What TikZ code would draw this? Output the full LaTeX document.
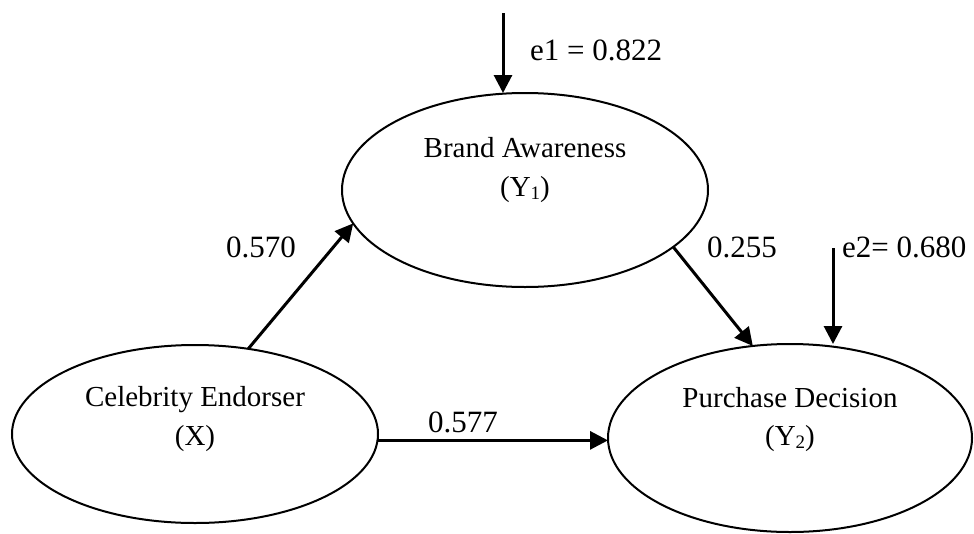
\documentclass[tikz,border=0pt]{standalone}
\usepackage{fontspec}
\setmainfont{Liberation Serif}
\usetikzlibrary{arrows.meta,shapes.geometric}

% lowered small index used in the construct names
\newcommand{\idx}[1]{\raisebox{-3pt}{\fontsize{19}{19}\selectfont #1}}

\begin{document}
\begin{tikzpicture}[x=1pt,y=-1pt,
  construct/.style={draw, ellipse, line width=2pt, inner sep=0pt, outer sep=0pt},
  nametext/.style={inner sep=0pt, anchor=base, font=\fontsize{29}{35}\selectfont},
  coef/.style={inner sep=0pt, anchor=base west, font=\fontsize{31}{37}\selectfont},
  path/.style={line width=3pt, -{Triangle[length=18pt,width=18pt]}}]

\useasboundingbox (0,0) rectangle (974,533);

% latent constructs
\node[construct, minimum width=366pt, minimum height=194pt] (brand) at (525,190) {};
\node[construct, minimum width=366pt, minimum height=178pt] (celeb) at (195,434) {};
\node[construct, minimum width=364pt, minimum height=188pt] (purch) at (790,438) {};

\node[nametext] (brandname) at (525,157) {Brand Awareness};
\node[nametext] (brandsym)  at (525,196) {(Y\idx{1})};
\node[nametext] (celebname) at (195,406) {Celebrity Endorser};
\node[nametext] (celebsym)  at (195,445) {(X)};
\node[nametext] (purchname) at (790,407) {Purchase Decision};
\node[nametext] (purchsym)  at (790,445) {(Y\idx{2})};

% error terms
\coordinate (e1top) at (503,13);
\coordinate (e2top) at (833,248);
\draw[path] (e1top) -- (e1top |- brand.north);
\draw[path] (e2top) -- (e2top |- purch.north);

% structural paths
\draw[path] (celeb.58) -- (brand.191);
\draw[path] (brand.339) -- (purch.112);
\draw[path] (celeb.-2.8) -- (celeb.-2.8 -| purch.west);

% coefficients
\node[coef] (le1)   at (530,60)  {e1 = 0.822};
\node[coef] (l570)  at (226,257) {0.570};
\node[coef] (l255)  at (707,257) {0.255};
\node[coef] (le2)   at (842,257) {e2= 0.680};
\node[coef] (l577)  at (428,432) {0.577};
\end{tikzpicture}
\end{document}
